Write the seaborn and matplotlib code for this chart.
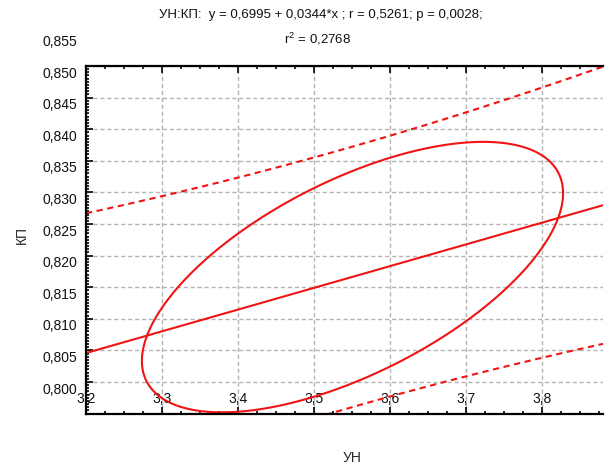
import numpy as np
import pandas as pd
import matplotlib
matplotlib.use("Agg")
import matplotlib.pyplot as plt
import seaborn as sns
from matplotlib.ticker import FixedLocator, MultipleLocator, NullFormatter
from matplotlib.transforms import ScaledTranslation

# ---------------- data ----------------
intercept = 0.6995
slope = 0.0344
x_range = [3.2, 3.88]
y_range = [0.800, 0.855]
band_halfwidth = 0.0206      # prediction band half width at the mean
band_spread = 0.9            # widening scale of the band
x_mean = 3.5505
y_mean = 0.8216
ellipse_half_x = 0.277
ellipse_half_y = 0.0214
ellipse_r = 0.62
x_ticks = [3.2, 3.3, 3.4, 3.5, 3.6, 3.7, 3.8]
x_tick_labels = ["3,2", "3,3", "3,4", "3,5", "3,6", "3,7", "3,8"]
y_ticks = [0.800, 0.805, 0.810, 0.815, 0.820, 0.825, 0.830, 0.835,
           0.840, 0.845, 0.850, 0.855]
y_tick_labels = ["0,800", "0,805", "0,810", "0,815", "0,820", "0,825",
                 "0,830", "0,835", "0,840", "0,845", "0,850", "0,855"]
title_line1 = "УН:КП:  y = 0,6995 + 0,0344*x ; r = 0,5261; p = 0,0028;"
title_line2 = r"$\mathregular{r^2}$ = 0,2768"
x_label = "УН"
y_label = "КП"

# ---------------- style ----------------
sns.set_theme(style="white")
plt.rcParams["font.family"] = ["Liberation Sans", "DejaVu Sans"]
plt.rcParams["mathtext.fontset"] = "custom"
plt.rcParams["mathtext.rm"] = "Liberation Sans"

RED = "#f01414"

fig = plt.figure(figsize=(6.15, 4.66), dpi=100)
W, H = 615, 466
ax_l, ax_r, ax_t, ax_b = 86, 603, 66, 413.6
ax = fig.add_axes([ax_l / W, 1 - ax_b / H, (ax_r - ax_l) / W, (ax_b - ax_t) / H])

# regression line and prediction bands
xs = np.linspace(x_range[0], x_range[1], 200)
yhat = intercept + slope * xs
half = band_halfwidth * np.sqrt(1 + ((xs - x_mean) / band_spread) ** 2)
df = pd.DataFrame({"x": xs, "fit": yhat, "upper": yhat + half, "lower": yhat - half})

sns.lineplot(data=df, x="x", y="fit", color=RED, lw=1.5, ax=ax)
sns.lineplot(data=df, x="x", y="upper", color=RED, lw=1.5, ax=ax,
             linestyle=(0, (3, 2.2)))
sns.lineplot(data=df, x="x", y="lower", color=RED, lw=1.5, ax=ax,
             linestyle=(0, (3, 2.2)))

# confidence ellipse
t = np.linspace(0, 2 * np.pi, 400)
ex = x_mean + ellipse_half_x * np.cos(t)
ey = y_mean + ellipse_half_y * (ellipse_r * np.cos(t) + np.sqrt(1 - ellipse_r ** 2) * np.sin(t))
sns.lineplot(x=ex, y=ey, sort=False, estimator=None, color=RED, lw=1.5, ax=ax)

ax.set_xlim(*x_range)
ax.set_ylim(*y_range)

# ticks
ax.xaxis.set_major_locator(FixedLocator(x_ticks))
ax.yaxis.set_major_locator(FixedLocator(y_ticks))
ax.set_xticklabels(x_tick_labels)
ax.set_yticklabels(y_tick_labels)
ax.xaxis.set_minor_locator(MultipleLocator(0.025))
ax.yaxis.set_minor_locator(MultipleLocator(0.0005))
ax.tick_params(axis="both", which="both", direction="in", color="black",
               width=1.2, labelsize=10, labelcolor="#111111")
ax.tick_params(axis="x", which="both", top=True, bottom=True)
ax.tick_params(axis="y", which="both", left=True, right=False)
ax.tick_params(which="major", length=5)
ax.tick_params(which="minor", length=2.5)
ax.tick_params(axis="y", which="major", pad=6.5)
ax.tick_params(axis="x", which="major", pad=3)

# Statistica-style shifted tick labels
yshift = ScaledTranslation(0, 0.255, fig.dpi_scale_trans)
xshift = ScaledTranslation(0, 0.255, fig.dpi_scale_trans)
for tk in ax.yaxis.get_major_ticks():
    tk.label1.set_transform(tk.label1.get_transform() + yshift)
for tk in ax.xaxis.get_major_ticks():
    tk.label1.set_transform(tk.label1.get_transform() + xshift)

# grid
ax.grid(True, which="major", color="#b4b4b4", linestyle=(0, (3, 2)), linewidth=1.0)
ax.set_axisbelow(True)

# spines
for s in ["left", "bottom", "top"]:
    ax.spines[s].set_visible(True)
    ax.spines[s].set_color("black")
    ax.spines[s].set_linewidth(1.6)
ax.spines["right"].set_visible(False)

# axis labels
ax.set_xlabel(x_label, fontsize=10, va="center", ha="center")
ax.xaxis.set_label_coords((352 - ax_l) / (ax_r - ax_l), (ax_b - 458) / (ax_b - ax_t))
ax.set_ylabel(y_label, fontsize=10, va="center", ha="center")
ax.yaxis.set_label_coords((22 - ax_l) / (ax_r - ax_l), (ax_b - 235) / (ax_b - ax_t))

# title
fig.text(321 / W, 1 - 15 / H, title_line1, ha="center", va="center", fontsize=9.5, color="#111111")
fig.text(318 / W, 1 - 39 / H, title_line2, ha="center", va="center", fontsize=9.5, color="#111111")

fig.savefig("out.png", dpi=100)
